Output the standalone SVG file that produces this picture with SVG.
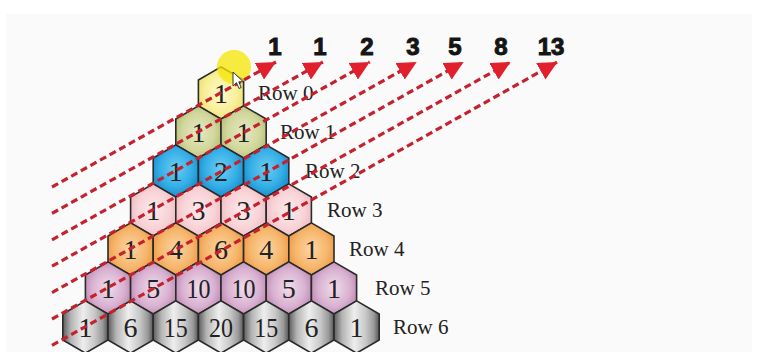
<svg xmlns="http://www.w3.org/2000/svg" xmlns:xlink="http://www.w3.org/1999/xlink" width="759" height="352" viewBox="0 0 759 352">
<style>
.hx{stroke:#2a2a2a;stroke-width:1.6}
.h0{fill:url(#g0)}.h1{fill:url(#g1)}.h2{fill:url(#g2)}.h3{fill:url(#g3)}.h4{fill:url(#g4)}.h5{fill:url(#g5)}.h6{fill:url(#g6)}
.n{font-family:"Liberation Serif","Times New Roman",serif;font-size:28px;fill:#222;text-anchor:middle}
.lbl{font-family:"Liberation Serif","Times New Roman",serif;font-size:21px;fill:#222}
.fib{font-family:"Liberation Sans",Arial,sans-serif;font-weight:bold;font-size:24px;fill:#151515;stroke:#151515;stroke-width:1;text-anchor:middle}
.dl{fill:none;stroke:#c3222e;stroke-width:3.2;stroke-dasharray:7 4;marker-end:url(#ah)}
</style>
<defs>
<polygon id="hex" points="0,-26.1 22.6,-13 22.6,13 0,26.1 -22.6,13 -22.6,-13"/>
<radialGradient id="g0" cx="0.5" cy="0.5" r="0.6"><stop offset="0" stop-color="#fdf9c8"/><stop offset="0.6" stop-color="#f8ef9a"/><stop offset="1" stop-color="#ecdc62"/></radialGradient>
<radialGradient id="g1" cx="0.5" cy="0.5" r="0.6"><stop offset="0" stop-color="#e6e9c4"/><stop offset="0.6" stop-color="#d2d79c"/><stop offset="1" stop-color="#adb86e"/></radialGradient>
<radialGradient id="g2" cx="0.5" cy="0.45" r="0.6"><stop offset="0" stop-color="#6ccdf3"/><stop offset="0.6" stop-color="#33aee6"/><stop offset="1" stop-color="#1584c4"/></radialGradient>
<radialGradient id="g3" cx="0.5" cy="0.5" r="0.6"><stop offset="0" stop-color="#feeaec"/><stop offset="0.6" stop-color="#f8d2d6"/><stop offset="1" stop-color="#eeb3bc"/></radialGradient>
<radialGradient id="g4" cx="0.5" cy="0.5" r="0.6"><stop offset="0" stop-color="#fcd5a3"/><stop offset="0.6" stop-color="#f6b66c"/><stop offset="1" stop-color="#eb9138"/></radialGradient>
<radialGradient id="g5" cx="0.5" cy="0.5" r="0.6"><stop offset="0" stop-color="#f0dcec"/><stop offset="0.6" stop-color="#d9b1d1"/><stop offset="1" stop-color="#b57fa8"/></radialGradient>
<linearGradient id="g6" x1="0" y1="0" x2="1" y2="0"><stop offset="0" stop-color="#5c5c5c"/><stop offset="0.18" stop-color="#b4b4b4"/><stop offset="0.45" stop-color="#eeeeee"/><stop offset="0.7" stop-color="#c8c8c8"/><stop offset="0.88" stop-color="#9a9a9a"/><stop offset="1" stop-color="#555555"/></linearGradient>
<marker id="ah" viewBox="0 0 19 19" refX="19" refY="9.5" markerWidth="19" markerHeight="19" markerUnits="userSpaceOnUse" orient="auto"><path d="M0,0 L19,9.5 L0,19 z" fill="#e0202c"/></marker>
</defs>
<rect x="0" y="0" width="759" height="352" fill="#ffffff"/>
<rect x="6" y="14" width="746" height="338" fill="#fafafa"/>

<g id="row0">
<g id="r0c0" transform="translate(221,93)"><use href="#hex" class="hx h0"/><text class="n" y="10">1</text></g>
</g>
<g id="row1">
<g id="r1c0" transform="translate(198.4,132)"><use href="#hex" class="hx h1"/><text class="n" y="10">1</text></g>
<g id="r1c1" transform="translate(243.6,132)"><use href="#hex" class="hx h1"/><text class="n" y="10">1</text></g>
</g>
<g id="row2">
<g id="r2c0" transform="translate(175.8,171)"><use href="#hex" class="hx h2"/><text class="n" y="10">1</text></g>
<g id="r2c1" transform="translate(221,171)"><use href="#hex" class="hx h2"/><text class="n" y="10">2</text></g>
<g id="r2c2" transform="translate(266.2,171)"><use href="#hex" class="hx h2"/><text class="n" y="10">1</text></g>
</g>
<g id="row3">
<g id="r3c0" transform="translate(153.2,210)"><use href="#hex" class="hx h3"/><text class="n" y="10">1</text></g>
<g id="r3c1" transform="translate(198.4,210)"><use href="#hex" class="hx h3"/><text class="n" y="10">3</text></g>
<g id="r3c2" transform="translate(243.6,210)"><use href="#hex" class="hx h3"/><text class="n" y="10">3</text></g>
<g id="r3c3" transform="translate(288.8,210)"><use href="#hex" class="hx h3"/><text class="n" y="10">1</text></g>
</g>
<g id="row4">
<g id="r4c0" transform="translate(130.6,249)"><use href="#hex" class="hx h4"/><text class="n" y="10">1</text></g>
<g id="r4c1" transform="translate(175.8,249)"><use href="#hex" class="hx h4"/><text class="n" y="10">4</text></g>
<g id="r4c2" transform="translate(221,249)"><use href="#hex" class="hx h4"/><text class="n" y="10">6</text></g>
<g id="r4c3" transform="translate(266.2,249)"><use href="#hex" class="hx h4"/><text class="n" y="10">4</text></g>
<g id="r4c4" transform="translate(311.4,249)"><use href="#hex" class="hx h4"/><text class="n" y="10">1</text></g>
</g>
<g id="row5">
<g id="r5c0" transform="translate(108,288)"><use href="#hex" class="hx h5"/><text class="n" y="10">1</text></g>
<g id="r5c1" transform="translate(153.2,288)"><use href="#hex" class="hx h5"/><text class="n" y="10">5</text></g>
<g id="r5c2" transform="translate(198.4,288)"><use href="#hex" class="hx h5"/><text class="n" x="0" y="10" textLength="24" lengthAdjust="spacingAndGlyphs">10</text></g>
<g id="r5c3" transform="translate(243.6,288)"><use href="#hex" class="hx h5"/><text class="n" x="0" y="10" textLength="24" lengthAdjust="spacingAndGlyphs">10</text></g>
<g id="r5c4" transform="translate(288.8,288)"><use href="#hex" class="hx h5"/><text class="n" y="10">5</text></g>
<g id="r5c5" transform="translate(334,288)"><use href="#hex" class="hx h5"/><text class="n" y="10">1</text></g>
</g>
<g id="row6">
<g id="r6c0" transform="translate(85.4,327)"><use href="#hex" class="hx h6"/><text class="n" y="10">1</text></g>
<g id="r6c1" transform="translate(130.6,327)"><use href="#hex" class="hx h6"/><text class="n" y="10">6</text></g>
<g id="r6c2" transform="translate(175.8,327)"><use href="#hex" class="hx h6"/><text class="n" x="0" y="10" textLength="24" lengthAdjust="spacingAndGlyphs">15</text></g>
<g id="r6c3" transform="translate(221,327)"><use href="#hex" class="hx h6"/><text class="n" x="0" y="10" textLength="24" lengthAdjust="spacingAndGlyphs">20</text></g>
<g id="r6c4" transform="translate(266.2,327)"><use href="#hex" class="hx h6"/><text class="n" x="0" y="10" textLength="24" lengthAdjust="spacingAndGlyphs">15</text></g>
<g id="r6c5" transform="translate(311.4,327)"><use href="#hex" class="hx h6"/><text class="n" y="10">6</text></g>
<g id="r6c6" transform="translate(356.6,327)"><use href="#hex" class="hx h6"/><text class="n" y="10">1</text></g>
</g>

<g id="row-labels">
<text class="lbl" x="258" y="100">Row 0</text>
<text class="lbl" x="280" y="139">Row 1</text>
<text class="lbl" x="305" y="178">Row 2</text>
<text class="lbl" x="327" y="217">Row 3</text>
<text class="lbl" x="349" y="256">Row 4</text>
<text class="lbl" x="375" y="295">Row 5</text>
<text class="lbl" x="393" y="334">Row 6</text>
</g>

<g id="fibonacci">
<text class="fib" x="275" y="55">1</text>
<text class="fib" x="320" y="55">1</text>
<text class="fib" x="367" y="55">2</text>
<text class="fib" x="413" y="55">3</text>
<text class="fib" x="455" y="55">5</text>
<text class="fib" x="501" y="55">8</text>
<text class="fib" x="551" y="55">13</text>
</g>

<g id="highlight">
<circle cx="234" cy="67" r="17" fill="#f5e600" opacity="0.75"/>
</g>

<g id="connectors">
<line class="dl" x1="52" y1="187" x2="276" y2="62"/>
<line class="dl" x1="52" y1="213.4" x2="322.9" y2="62"/>
<line class="dl" x1="52" y1="239.8" x2="369.8" y2="62"/>
<line class="dl" x1="52" y1="266.2" x2="416.7" y2="62"/>
<line class="dl" x1="52" y1="292.6" x2="463.6" y2="62"/>
<line class="dl" x1="52" y1="319" x2="510.5" y2="62"/>
<line class="dl" x1="52" y1="345.4" x2="557.4" y2="62"/>
</g>

<g id="cursor">
<polygon points="233,72 233,86 236.5,82.7 239,88.5 241.2,87.5 238.8,81.8 243.3,81.8" fill="#ffffff" stroke="#222" stroke-width="0.9"/>
</g>
</svg>
